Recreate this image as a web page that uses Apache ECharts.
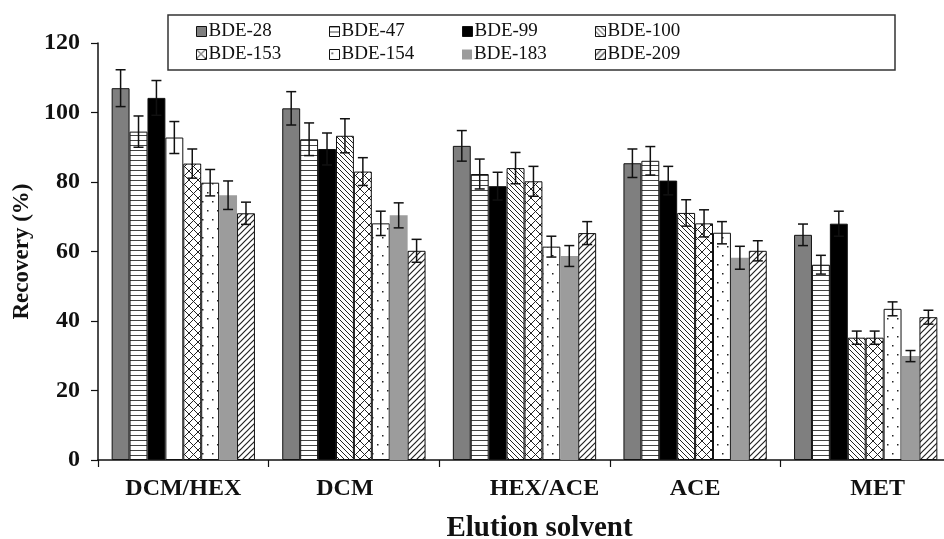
<!DOCTYPE html>
<html>
<head>
<meta charset="utf-8">
<script src="https://cdn.jsdelivr.net/npm/echarts@6/dist/echarts.min.js"></script>
<style>
  html, body { margin: 0; padding: 0; background: #fff; }
  #chart { width: 944px; height: 539px; }
</style>
</head>
<body>
<div id="chart"></div>
<script>
// Recovery (%) of PBDE congeners for each elution solvent, with standard deviations.
const categories = ['DCM/HEX', 'DCM', 'HEX/ACE', 'ACE', 'MET'];
const seriesNames = ['BDE-28', 'BDE-47', 'BDE-99', 'BDE-100', 'BDE-153', 'BDE-154', 'BDE-183', 'BDE-209'];

const bde28  = [107.0, 101.2, 90.4, 85.4, 64.8];
const bde47  = [94.5, 92.3, 82.3, 86.1, 56.2];
const bde99  = [104.2, 89.5, 78.8, 80.4, 68.0];
const bde100 = [92.8, 93.3, 84.0, 71.1, 35.2];
const bde153 = [85.3, 83.0, 80.2, 68.1, 35.2];
const bde154 = [79.8, 68.1, 61.4, 65.4, 43.5];
const bde183 = [76.2, 70.4, 58.7, 58.2, 29.9];
const bde209 = [71.0, 60.2, 65.3, 60.2, 41.1];

const sd28  = [5.3, 4.8, 4.4, 4.1, 3.1];
const sd47  = [4.5, 4.7, 4.3, 4.1, 2.7];
const sd99  = [5.0, 4.6, 4.0, 4.1, 3.6];
const sd100 = [4.6, 4.9, 4.5, 3.8, 1.9];
const sd153 = [4.2, 4.0, 4.3, 3.9, 1.9];
const sd154 = [3.8, 3.5, 3.0, 3.2, 2.0];
const sd183 = [4.1, 3.6, 3.0, 3.3, 1.6];
const sd209 = [3.2, 3.3, 3.3, 2.9, 2.0];

const yTicks = [0, 20, 40, 60, 80, 100, 120];

const values = [bde28, bde47, bde99, bde100, bde153, bde154, bde183, bde209];
const errors = [sd28, sd47, sd99, sd100, sd153, sd154, sd183, sd209];

// ---- fill patterns -------------------------------------------------------
function patternCanvas(w, h, draw) {
  const c = document.createElement('canvas');
  c.width = w; c.height = h;
  const ctx = c.getContext('2d');
  ctx.fillStyle = '#fff';
  ctx.fillRect(0, 0, w, h);
  draw(ctx, w, h);
  return { image: c, repeat: 'repeat' };
}
const hLines = patternCanvas(5, 5, (ctx, w) => {
  ctx.fillStyle = '#444';
  ctx.fillRect(0, 0, w, 1);
});
const backDiag = patternCanvas(5, 5, (ctx, w, h) => {
  ctx.strokeStyle = '#222'; ctx.lineWidth = 1;
  ctx.beginPath();
  ctx.moveTo(-1, -1); ctx.lineTo(w + 1, h + 1);
  ctx.moveTo(-1, h - 1); ctx.lineTo(1, h + 1);
  ctx.moveTo(w - 1, -1); ctx.lineTo(w + 1, 1);
  ctx.stroke();
});
const fwdDiag = patternCanvas(6, 6, (ctx, w, h) => {
  ctx.strokeStyle = '#222'; ctx.lineWidth = 1.2;
  ctx.beginPath();
  ctx.moveTo(-1, h + 1); ctx.lineTo(w + 1, -1);
  ctx.moveTo(-1, 1); ctx.lineTo(1, -1);
  ctx.moveTo(w - 1, h + 1); ctx.lineTo(w + 1, h - 1);
  ctx.stroke();
});
const crossHatch = patternCanvas(9, 9, (ctx, w, h) => {
  ctx.strokeStyle = '#222'; ctx.lineWidth = 1;
  ctx.beginPath();
  ctx.moveTo(0, 0); ctx.lineTo(w, h);
  ctx.moveTo(0, h); ctx.lineTo(w, 0);
  ctx.stroke();
});
const dots = patternCanvas(10, 18, (ctx) => {
  ctx.fillStyle = '#222';
  ctx.fillRect(2, 3, 1.5, 1.5);
  ctx.fillRect(7, 12, 1.5, 1.5);
});

const fills = ['#7f7f7f', hLines, '#000000', backDiag, crossHatch, dots, '#9c9c9c', fwdDiag];
const borders = [1, 1, 1, 1, 1, 1, 0, 1];
// BDE-100 under DCM/HEX is drawn as a plain open bar
const plainBars = { 3: [0] };

const CAT_GAP = 0.16;
const N = seriesNames.length;

const barSeries = seriesNames.map((name, si) => ({
  name: name,
  type: 'bar',
  barGap: '0%',
  barCategoryGap: (CAT_GAP * 100) + '%',
  itemStyle: { color: fills[si], borderColor: '#111', borderWidth: borders[si] },
  data: values[si].map((v, j) => (plainBars[si] && plainBars[si].includes(j))
    ? { value: v, itemStyle: { color: '#fff' } } : v),
  z: 2
}));

function errorRenderer(si) {
  return function (params, api) {
    const ci = api.value(0), v = api.value(1), e = api.value(2);
    const band = api.size([1, 0])[0];
    const total = band * (1 - CAT_GAP);
    const bw = total / N;
    const cx = api.coord([ci, 0])[0] - total / 2 + bw * (si + 0.5);
    const yTop = api.coord([ci, v + e])[1];
    const yBot = api.coord([ci, v - e])[1];
    const cap = 5;
    const style = { stroke: '#111', lineWidth: 1.5 };
    return {
      type: 'group',
      children: [
        { type: 'line', shape: { x1: cx, y1: yTop, x2: cx, y2: yBot }, style: style },
        { type: 'line', shape: { x1: cx - cap, y1: yTop, x2: cx + cap, y2: yTop }, style: style },
        { type: 'line', shape: { x1: cx - cap, y1: yBot, x2: cx + cap, y2: yBot }, style: style }
      ]
    };
  };
}

const errorSeries = seriesNames.map((name, si) => ({
  name: name + ' SD',
  type: 'custom',
  renderItem: errorRenderer(si),
  encode: { x: 0, y: 1 },
  data: values[si].map((v, j) => [j, v, errors[si][j]]),
  z: 5
}));

// horizontal nudges of the category labels
const labelShift = { 'DCM': -9, 'HEX/ACE': 20, 'MET': 12 };

const serif = 'Liberation Serif, Times New Roman, serif';

// legend laid out as a 4 x 2 table: one legend component per cell
const LEGEND_COLS = 4;
const legends = seriesNames.map((name, i) => ({
  data: [name],
  left: 196 + (i % LEGEND_COLS) * 133,
  top: 22 + Math.floor(i / LEGEND_COLS) * 23,
  icon: 'rect',
  itemWidth: 10,
  itemHeight: 10,
  padding: 0,
  textStyle: { fontFamily: serif, fontSize: 19, color: '#111', padding: [0, 0, 0, -3] },
  itemStyle: { borderColor: '#111', borderWidth: borders[i] }
}));

const chart = echarts.init(document.getElementById('chart'), null, { renderer: 'canvas' });
chart.setOption({
  backgroundColor: '#fff',
  animation: false,
  grid: { left: 98, top: 43, width: 853, height: 417, containLabel: false, outerBoundsMode: 'none' },
  graphic: [{
    type: 'rect',
    shape: { x: 168, y: 15, width: 727, height: 55 },
    style: { fill: '#fff', stroke: '#333', lineWidth: 1.5 },
    z: 0
  }],
  legend: legends,
  xAxis: {
    type: 'category',
    data: categories.map(c => {
      const s = labelShift[c] || 0;
      return { value: c, textStyle: { padding: s > 0 ? [0, 0, 0, 2 * s] : [0, -2 * s, 0, 0] } };
    }),
    name: 'Elution solvent',
    nameLocation: 'middle',
    nameGap: 54,
    nameTextStyle: { fontFamily: serif, fontWeight: 'bold', fontSize: 29, color: '#111', padding: [0, 0, 0, 30] },
    axisLine: { lineStyle: { color: '#111', width: 1.5 } },
    axisTick: { show: true, length: 7, lineStyle: { color: '#111', width: 1.2 } },
    axisLabel: { margin: 17, fontFamily: serif, fontWeight: 'bold', fontSize: 24, color: '#111' },
    splitLine: { show: false }
  },
  yAxis: {
    type: 'value',
    min: yTicks[0],
    max: yTicks[yTicks.length - 1],
    interval: yTicks[1] - yTicks[0],
    name: 'Recovery (%)',
    nameLocation: 'middle',
    nameGap: 64,
    nameRotate: 90,
    nameTextStyle: { fontFamily: serif, fontWeight: 'bold', fontSize: 23, color: '#111' },
    axisLine: { show: true, lineStyle: { color: '#111', width: 1.5 } },
    axisTick: { show: true, length: 7, lineStyle: { color: '#111', width: 1.2 } },
    axisLabel: { margin: 18, fontFamily: serif, fontWeight: 'bold', fontSize: 24, color: '#111' },
    splitLine: { show: false }
  },
  series: barSeries.concat(errorSeries)
});
</script>
</body>
</html>
